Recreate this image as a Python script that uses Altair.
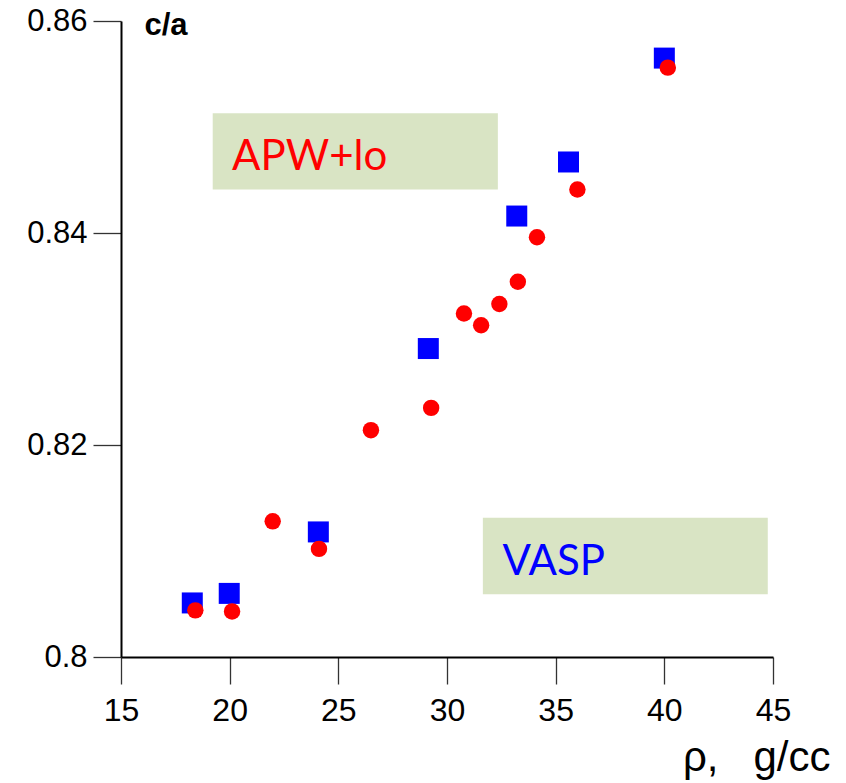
import altair as alt
import pandas as pd

# APW+lo results (red circles)
apw_rho = [18.42, 20.11, 21.98, 24.11, 26.50, 29.27, 30.78, 31.57, 32.41, 33.26, 34.14, 36.00, 40.16]
apw_ca = [0.8044, 0.8043, 0.8128, 0.8102, 0.8214, 0.8235, 0.8324, 0.8313, 0.8333, 0.8354, 0.8396, 0.8441, 0.8556]

# VASP results (blue squares)
vasp_rho = [18.28, 19.98, 24.08, 29.14, 33.21, 35.59, 40.00]
vasp_ca = [0.8051, 0.8060, 0.8118, 0.8291, 0.8416, 0.8467, 0.8565]

# Annotation boxes (data coordinates)
label_text = ["APW+lo", "VASP"]
label_color = ["#ff0000", "#0000ff"]
box_x1 = [19.22, 31.65]
box_x2 = [32.34, 44.76]
box_y1 = [0.8513, 0.81314]
box_y2 = [0.8441, 0.80591]
text_x = [20.11, 32.55]
text_y = [0.8459, 0.80774]

x_ticks = [15, 20, 25, 30, 35, 40, 45]
y_ticks = [0.80, 0.82, 0.84, 0.86]

apw = pd.DataFrame({"x": apw_rho, "y": apw_ca})
vasp = pd.DataFrame({"x": vasp_rho, "y": vasp_ca})
boxes = pd.DataFrame({"x": box_x1, "x2": box_x2, "y": box_y1, "y2": box_y2})
labels = pd.DataFrame({"x": text_x, "y": text_y, "label": label_text, "color": label_color})

xscale = alt.Scale(domain=[15, 45], nice=False, zero=False)
yscale = alt.Scale(domain=[0.80, 0.86], nice=False, zero=False)

xaxis = alt.Axis(values=x_ticks, grid=False, domainColor="black", domainWidth=2,
                 tickColor="#333333", tickWidth=1.3, tickSize=27,
                 labelFont="Liberation Sans", labelFontSize=32, labelColor="black",
                 labelPadding=11, labelFlush=False,
                 title="ρ,\u00a0\u00a0\u00a0g/cc", titleFont="Liberation Sans", titleFontSize=42,
                 titleFontWeight="normal", titleColor="black",
                 titleAlign="right", titleBaseline="alphabetic", titleX=709, titleY=113)
yaxis = alt.Axis(values=y_ticks, grid=False, domainColor="black", domainWidth=2,
                 tickColor="#333333", tickWidth=1.3, tickSize=28, format=".2~f",
                 labelFont="Liberation Sans", labelFontSize=31, labelColor="black",
                 labelPadding=6, labelFlush=False,
                 title="c/a", titleFont="Liberation Sans", titleFontSize=31,
                 titleFontWeight="bold", titleColor="black", titleAngle=0,
                 titleAlign="left", titleBaseline="alphabetic", titleX=23, titleY=13)

X = alt.X("x:Q", scale=xscale, axis=xaxis)
Y = alt.Y("y:Q", scale=yscale, axis=yaxis)

rects = alt.Chart(boxes).mark_rect(color="#d9e4c4").encode(
    x=X, x2="x2:Q", y=Y, y2="y2:Q",
)

texts = alt.Chart(labels).mark_text(font="Lato", fontSize=42, align="left",
                                    baseline="alphabetic").encode(
    x=X, y=Y,
    text="label:N",
    color=alt.Color("color:N", scale=None),
)

squares = alt.Chart(vasp).mark_point(shape="square", filled=True, opacity=1,
                                     color="#0000ff", size=441).encode(x=X, y=Y)

circles = alt.Chart(apw).mark_point(shape="circle", filled=True, opacity=1,
                                    color="#ff0000", size=270).encode(x=X, y=Y)

chart = alt.layer(rects, texts, squares, circles).properties(
    width=652, height=636,
    autosize=alt.AutoSizeParams(type="none"),
    padding={"left": 121, "top": 21, "right": 73, "bottom": 126},
    background="white",
).configure_view(stroke=None)

chart.save("out.html", embed_options={"renderer": "svg", "actions": False})
